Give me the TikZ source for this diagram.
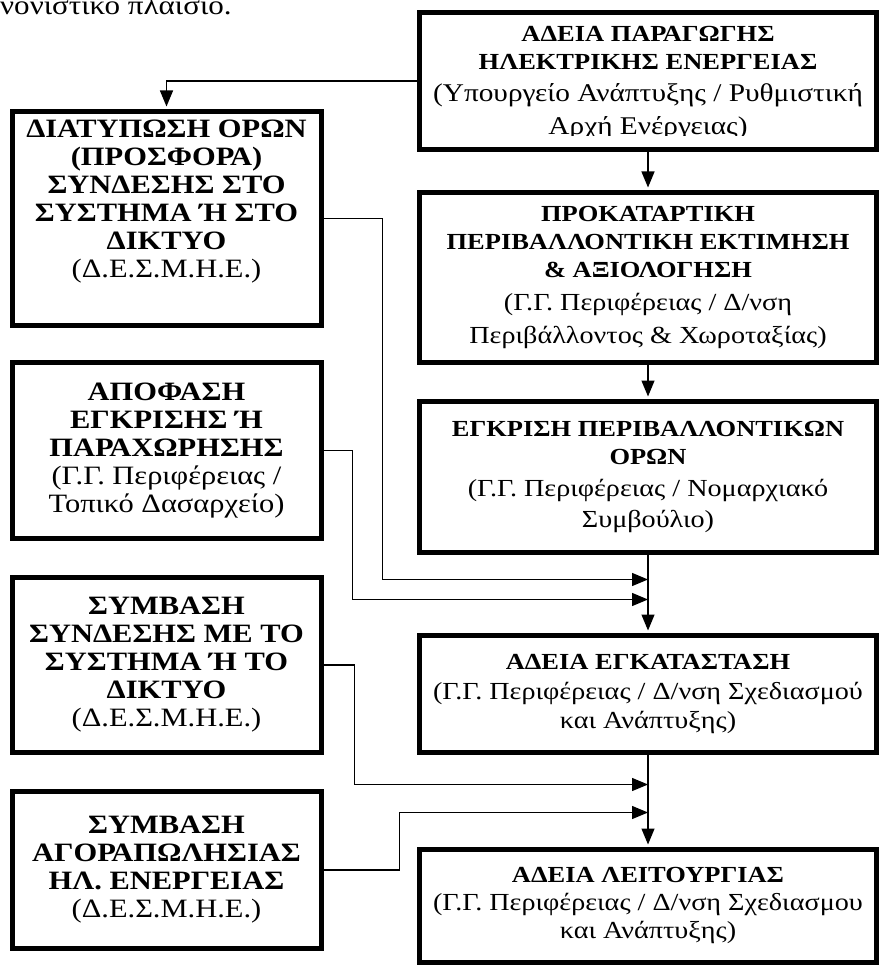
\documentclass[tikz,border=0pt]{standalone}
\usepackage{fontspec}
\setmainfont{Liberation Serif}[FakeStretch=1.15]
\usetikzlibrary{arrows.meta,calc}
% smaller bold heading of the right column
\newcommand{\rhead}[1]{\textbf{\fontsize{23}{28}\selectfont #1}}

\begin{document}
\begin{tikzpicture}[x=1pt,y=-1pt,>={Triangle[length=16pt,width=13pt]},
    box/.style={draw,line width=5pt,inner sep=0pt,align=center},
    rbox/.style={box,minimum width=457.5pt,font=\fontsize{24.5}{28}\selectfont},
    lbox/.style={box,minimum width=309pt,font=\fontsize{26.5}{28}\selectfont},
    txt/.style={inner sep=0pt,align=center},
    conn/.style={line width=1.3pt},
    tobox/.style={conn,->,shorten >=2.5pt}]
    \useasboundingbox (0,0) rectangle (880,965);
    % line of the page above, cut by the frame
    \node[anchor=base west,inner sep=0pt,font=\fontsize{27}{30}\selectfont] (prev) at (0,14.5) {νονιστικό πλαίσιο.};
    % right column: the licences, top to bottom
    \node[rbox,minimum height=137pt] (permit) at (648,81) {};
    \begin{scope}
      \clip (permit.north west) rectangle ($(permit.south east)+(0,-16.5)$);
      \node[txt,anchor=north,font=\fontsize{25.5}{28}\selectfont] (permittxt) at (648,26) {\rhead{ΑΔΕΙΑ ΠΑΡΑΓΩΓΗΣ}\\\rhead{ΗΛΕΚΤΡΙΚΗΣ ΕΝΕΡΓΕΙΑΣ}\\[4pt](Υπουργείο Ανάπτυξης / Ρυθμιστική\\[5pt]Αρχή Ενέργειας)};
    \end{scope}
    \node[rbox,minimum height=170pt] (prelim) at (648,277.5) {\rhead{ΠΡΟΚΑΤΑΡΤΙΚΗ}\\\rhead{ΠΕΡΙΒΑΛΛΟΝΤΙΚΗ ΕΚΤΙΜΗΣΗ}\\\rhead{\& ΑΞΙΟΛΟΓΗΣΗ}\\[5pt](Γ.Γ. Περιφέρειας / Δ/νση\\[5pt]Περιβάλλοντος \& Χωροταξίας)};
    \node[rbox,minimum height=151pt] (envterms) at (648,477) {\rhead{ΕΓΚΡΙΣΗ ΠΕΡΙΒΑΛΛΟΝΤΙΚΩΝ}\\\rhead{ΟΡΩΝ}\\[4pt](Γ.Γ. Περιφέρειας / Νομαρχιακό\\[3pt]Συμβούλιο)};
    \node[rbox,minimum height=117pt] (install) at (648,694) {\rhead{ΑΔΕΙΑ ΕΓΚΑΤΑΣΤΑΣΗ}\\[2pt](Γ.Γ. Περιφέρειας / Δ/νση Σχεδιασμού\\[1pt]και Ανάπτυξης)};
    \node[rbox,minimum height=112.5pt] (operate) at (648,905.75) {\rhead{ΑΔΕΙΑ ΛΕΙΤΟΥΡΓΙΑΣ}\\(Γ.Γ. Περιφέρειας / Δ/νση Σχεδιασμου\\και Ανάπτυξης)};
    % left column: the side procedures
    \node[lbox,minimum height=214pt] (offer) at (166.5,218.5) {};
    \node[txt,font=\fontsize{26.5}{28}\selectfont] (offertxt) at (166.5,202) {\textbf{ΔΙΑΤΥΠΩΣΗ ΟΡΩΝ}\\\textbf{(ΠΡΟΣΦΟΡΑ)}\\\textbf{ΣΥΝΔΕΣΗΣ ΣΤΟ}\\\textbf{ΣΥΣΤΗΜΑ Ή ΣΤΟ}\\\textbf{ΔΙΚΤΥΟ}\\(Δ.Ε.Σ.Μ.Η.Ε.)};
    \node[lbox,minimum height=176pt] (decision) at (166.5,450.5) {\textbf{ΑΠΟΦΑΣΗ}\\\textbf{ΕΓΚΡΙΣΗΣ Ή}\\\textbf{ΠΑΡΑΧΩΡΗΣΗΣ}\\(Γ.Γ. Περιφέρειας /\\Τοπικό Δασαρχείο)};
    \node[lbox,minimum height=175pt] (connect) at (166.5,665) {\textbf{ΣΥΜΒΑΣΗ}\\\textbf{ΣΥΝΔΕΣΗΣ ΜΕ ΤΟ}\\\textbf{ΣΥΣΤΗΜΑ Ή ΤΟ}\\\textbf{ΔΙΚΤΥΟ}\\(Δ.Ε.Σ.Μ.Η.Ε.)};
    \node[lbox,minimum height=157pt] (sale) at (166.5,870) {\textbf{ΣΥΜΒΑΣΗ}\\\textbf{ΑΓΟΡΑΠΩΛΗΣΙΑΣ}\\\textbf{ΗΛ. ΕΝΕΡΓΕΙΑΣ}\\(Δ.Ε.Σ.Μ.Η.Ε.)};
    % main line
    \draw[tobox] (permit.west) -| (offer.north);
    \draw[tobox] (permit.south) -- (prelim.north);
    \draw[tobox] (prelim.south) -- (envterms.north);
    \draw[tobox] (envterms.south) -- (install.north);
    \draw[tobox] (install.south) -- (operate.north);
    % side lines join the main line
    \coordinate (m1) at ($(envterms.south)+(0,24.5)$);
    \coordinate (m2) at ($(envterms.south)+(0,44.5)$);
    \coordinate (m3) at ($(install.south)+(0,29.5)$);
    \coordinate (m4) at ($(install.south)+(0,57.5)$);
    \draw[conn,->] (offer.east) -- ++(59,0) |- (m1);
    \draw[conn,->] (decision.east) -- ++(29,0) |- (m2);
    \draw[conn,->] (connect.east) -- ++(31,0) |- (m3);
    \draw[conn,->] (sale.east) -- ++(76,0) |- (m4);
\end{tikzpicture}
\end{document}
